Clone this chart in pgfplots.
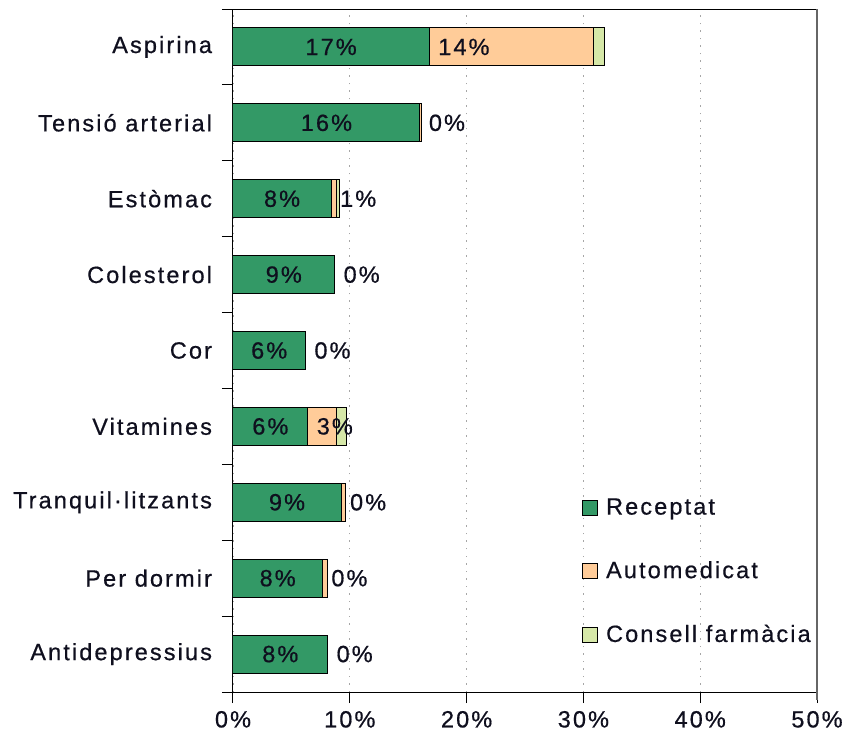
\documentclass[border=0pt]{standalone}
\usepackage{pgfplots}
\pgfplotsset{compat=1.18}
\usepackage{fontspec}
\setmainfont{Liberation Sans}[LetterSpace=9, FakeBold=0.6]
\definecolor{rec}{RGB}{51,153,102}
\definecolor{aut}{RGB}{255,204,153}
\definecolor{con}{RGB}{214,232,168}
\definecolor{lab}{RGB}{15,15,30}
\begin{document}
\fontsize{23.5}{28}\selectfont
\begin{tikzpicture}
\useasboundingbox (-233pt,-50pt) rectangle (613pt,692pt);
\begin{axis}[
  scale only axis, width=584pt, height=683pt,
  xbar stacked, bar width=38pt,
  xmin=0, xmax=50, ymin=-0.5, ymax=8.5,
  xtick={0,10,...,50}, xticklabels={0\%,10\%,20\%,30\%,40\%,50\%},
  tick align=outside, major tick length=11pt,
  xtick pos=bottom, ytick pos=left,
  ytick={-0.5,0.5,...,8.5}, yticklabels={},
  extra y ticks={0,...,8},
  extra y tick labels={Antidepressius,Per dormir,Tranquil·litzants,Vitamines,Cor,Colesterol,Estòmac,Tensió arterial,Aspirina},
  extra y tick style={major tick length=0pt},
  yticklabel style={font=\fontsize{23.5}{28}\selectfont, color=lab, xshift=-13pt},
  xticklabel style={font=\fontsize{23.5}{28}\selectfont, color=lab},
  axis line style={line width=1pt},
  tick style={line width=1pt, black},
  xmajorgrids, major grid style={gray!70, dash pattern=on 1.5pt off 6pt, line width=0.8pt},
  legend style={at={(axis cs:29.83,2.08)}, anchor=north west, draw=none, fill=none, inner sep=0pt, row sep=39pt, font=\fontsize{23.5}{28}\selectfont, text=lab},
  legend cell align=left,
  legend image code/.code={\draw[#1, draw=black, line width=1pt] (0pt,-7.5pt) rectangle (15pt,7.5pt); \path[draw=none, fill=none] (0pt,0pt) rectangle (22pt,0.1pt);},
]
\addplot[fill=rec, draw=black, line width=1pt] coordinates {(8.1,0) (7.65,1) (9.25,2) (6.4,3) (6.2,4) (8.7,5) (8.4,6) (16.0,7) (16.8,8)};
\addplot[fill=aut, draw=black, line width=1pt] coordinates {(0,0) (0.43,1) (0.37,2) (2.5,3) (0,4) (0,5) (0.5,6) (0.1,7) (14.1,8)};
\addplot[fill=con, draw=black, line width=1pt] coordinates {(0,0) (0,1) (0,2) (0.8,3) (0,4) (0,5) (0.25,6) (0,7) (0.9,8)};
\legend{Receptat,Automedicat,Consell farmàcia}
\coordinate (r0) at (axis cs:4.05,0);
\coordinate (r1) at (axis cs:3.825,1);
\coordinate (r2) at (axis cs:4.625,2);
\coordinate (r3) at (axis cs:3.2,3);
\coordinate (r4) at (axis cs:3.1,4);
\coordinate (r5) at (axis cs:4.35,5);
\coordinate (r6) at (axis cs:4.2,6);
\coordinate (r7) at (axis cs:8.0,7);
\coordinate (r8) at (axis cs:8.4,8);
\coordinate (a0) at (axis cs:8.1,0);
\coordinate (a1) at (axis cs:7.65,1);
\coordinate (a2) at (axis cs:9.25,2);
\coordinate (a3) at (axis cs:6.4,3);
\coordinate (a4) at (axis cs:6.2,4);
\coordinate (a5) at (axis cs:8.7,5);
\coordinate (a6) at (axis cs:8.4,6);
\coordinate (a7) at (axis cs:16.0,7);
\coordinate (a8) at (axis cs:16.8,8);
\coordinate (br) at (rel axis cs:1,0);
\coordinate (tr) at (rel axis cs:1,1);
\end{axis}
\begin{scope}[every node/.style={font=\fontsize{23.5}{28}\selectfont, text=lab}]
\node at (r0) {8\%};
\node at (r1) {8\%};
\node at (r2) {9\%};
\node at (r3) {6\%};
\node at (r4) {6\%};
\node at (r5) {9\%};
\node at (r6) {8\%};
\node at (r7) {16\%};
\node at (r8) {17\%};
\node[anchor=west, xshift=1pt] at (a0) {0\%};
\node[anchor=west, xshift=1pt] at (a1) {0\%};
\node[anchor=west, xshift=1pt] at (a2) {0\%};
\node[anchor=west, xshift=1pt] at (a3) {3\%};
\node[anchor=west, xshift=1pt] at (a4) {0\%};
\node[anchor=west, xshift=1pt] at (a5) {0\%};
\node[anchor=west, xshift=1pt] at (a6) {1\%};
\node[anchor=west, xshift=1pt] at (a7) {0\%};
\node[anchor=west, xshift=1pt] at (a8) {14\%};
\end{scope}
\draw[gray!80!black, line width=2pt] ([yshift=-8pt]br) -- (tr);
\end{tikzpicture}
\end{document}
